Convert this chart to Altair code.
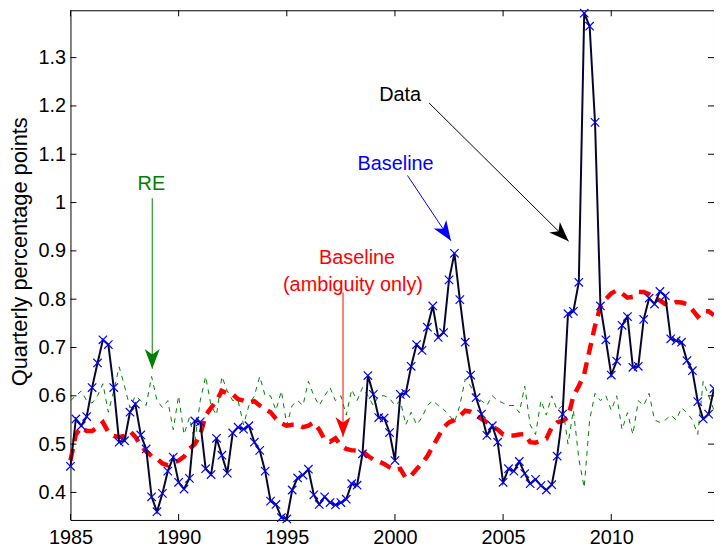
import altair as alt
import pandas as pd

FONT = "Liberation Sans"

# ---------------- data (quarterly, 1985Q1 .. 2014Q4) ----------------
start_year = 1985.0
n_quarters = 120
years = [start_year + 0.25 * i for i in range(n_quarters)]

data_vals = [
    0.454, 0.552, 0.538, 0.557, 0.617, 0.668, 0.716, 0.706, 0.617, 0.504,
    0.507, 0.566, 0.583, 0.519, 0.490, 0.391, 0.360, 0.398, 0.444, 0.473,
    0.421, 0.407, 0.429, 0.548, 0.546, 0.449, 0.437, 0.512, 0.477, 0.440,
    0.523, 0.535, 0.531, 0.538, 0.504, 0.487, 0.444, 0.382, 0.375, 0.348,
    0.345, 0.405, 0.430, 0.436, 0.448, 0.395, 0.375, 0.391, 0.379, 0.374,
    0.379, 0.386, 0.418, 0.415, 0.480, 0.642, 0.603, 0.555, 0.554, 0.524,
    0.466, 0.603, 0.605, 0.661, 0.706, 0.694, 0.742, 0.786, 0.721, 0.731,
    0.840, 0.895, 0.799, 0.711, 0.643, 0.596, 0.562, 0.518, 0.538, 0.504,
    0.421, 0.449, 0.444, 0.464, 0.439, 0.418, 0.427, 0.414, 0.405, 0.416,
    0.475, 0.562, 0.770, 0.775, 0.835, 1.392, 1.365, 1.166, 0.786, 0.716,
    0.643, 0.672, 0.746, 0.764, 0.659, 0.661, 0.758, 0.802, 0.790, 0.816,
    0.807, 0.718, 0.714, 0.711, 0.673, 0.652, 0.588, 0.552, 0.562, 0.615,
]

ambiguity_vals = [
    0.466, 0.520, 0.535, 0.527, 0.527, 0.535, 0.545, 0.525, 0.517, 0.515,
    0.517, 0.527, 0.515, 0.497, 0.485, 0.475, 0.470, 0.460, 0.456, 0.462,
    0.466, 0.474, 0.490, 0.500, 0.520, 0.560, 0.575, 0.590, 0.610, 0.605,
    0.603, 0.593, 0.590, 0.586, 0.589, 0.580, 0.572, 0.566, 0.552, 0.543,
    0.538, 0.540, 0.540, 0.535, 0.538, 0.545, 0.530, 0.510, 0.505, 0.512,
    0.497, 0.490, 0.487, 0.487, 0.485, 0.476, 0.468, 0.464, 0.459, 0.452,
    0.446, 0.449, 0.430, 0.435, 0.448, 0.460, 0.475, 0.495, 0.515, 0.535,
    0.545, 0.550, 0.558, 0.569, 0.567, 0.560, 0.552, 0.545, 0.536, 0.530,
    0.520, 0.518, 0.518, 0.520, 0.521, 0.504, 0.503, 0.507, 0.511, 0.535,
    0.545, 0.548, 0.555, 0.600, 0.620, 0.645, 0.695, 0.745, 0.785, 0.800,
    0.812, 0.818, 0.812, 0.803, 0.805, 0.815, 0.815, 0.810, 0.803, 0.797,
    0.790, 0.788, 0.794, 0.793, 0.790, 0.778, 0.764, 0.775, 0.775, 0.767,
]

re_vals = [
    0.590, 0.600, 0.610, 0.590, 0.585, 0.600, 0.625, 0.566, 0.610, 0.660,
    0.620, 0.575, 0.600, 0.590, 0.580, 0.640, 0.590, 0.576, 0.590, 0.530,
    0.600, 0.520, 0.555, 0.505, 0.590, 0.640, 0.580, 0.560, 0.640, 0.610,
    0.590, 0.590, 0.540, 0.580, 0.600, 0.640, 0.600, 0.600, 0.570, 0.610,
    0.540, 0.580, 0.590, 0.580, 0.630, 0.600, 0.580, 0.600, 0.617, 0.590,
    0.600, 0.560, 0.613, 0.590, 0.617, 0.600, 0.580, 0.600, 0.600, 0.595,
    0.580, 0.590, 0.540, 0.566, 0.540, 0.555, 0.580, 0.590, 0.580, 0.572,
    0.560, 0.545, 0.580, 0.635, 0.620, 0.595, 0.590, 0.580, 0.600, 0.590,
    0.585, 0.580, 0.580, 0.565, 0.620, 0.540, 0.520, 0.590, 0.560, 0.600,
    0.570, 0.580, 0.500, 0.570, 0.470, 0.410, 0.550, 0.605, 0.590, 0.600,
    0.570, 0.600, 0.530, 0.565, 0.520, 0.590, 0.580, 0.605, 0.550, 0.545,
    0.550, 0.560, 0.550, 0.575, 0.565, 0.550, 0.520, 0.630, 0.600, 0.570,
]

x_tick_vals = [1985, 1990, 1995, 2000, 2005, 2010]
y_tick_vals = [0.4, 0.5, 0.6, 0.7, 0.8, 0.9, 1.0, 1.1, 1.2, 1.3]
x_domain = [1985, 2014.75]
y_domain = [0.343, 1.398]

# annotations (data coordinates)
text_labels = ["Data", "Baseline", "RE", "Baseline", "(ambiguity only)"]
text_x = [2000.24, 2000.03, 1988.74, 1998.25, 1998.06]
text_y = [1.2226, 1.079, 1.038, 0.886, 0.829]
text_colors = ["#000000", "#0000ff", "#008000", "#ff0000", "#ff0000"]

arrow_x0 = [2001.58, 2000.58, 1988.78, 1997.60]
arrow_y0 = [1.206, 1.056, 1.009, 0.814]
arrow_x1 = [2008.03, 2002.59, 1988.78, 1997.60]
arrow_y1 = [0.920, 0.921, 0.656, 0.515]
arrow_colors = ["#000000", "#0000ff", "#008000", "#ff0000"]
arrow_angles = [134.7, 146.3, 180, 180]

W, H = 649, 514

df = pd.DataFrame({"year": years, "data": data_vals,
                   "amb": ambiguity_vals, "re": re_vals})
txt_df = pd.DataFrame({"label": text_labels, "x": text_x, "y": text_y,
                       "c": text_colors})
arr_df = pd.DataFrame({"x": arrow_x0, "y": arrow_y0, "x2": arrow_x1,
                       "y2": arrow_y1, "c": arrow_colors, "a": arrow_angles})
xt_df = pd.DataFrame({"t": x_tick_vals})
yt_df = pd.DataFrame({"t": y_tick_vals})

xs = alt.Scale(domain=x_domain, nice=False, zero=False)
ys = alt.Scale(domain=y_domain, nice=False, zero=False)

x_axis = alt.Axis(values=x_tick_vals, format="d", tickSize=0, domain=False,
                  grid=False, labelFont=FONT, labelFontSize=20,
                  labelColor="black", labelPadding=8, title=None,
                  labelFlush=False)
y_axis = alt.Axis(values=y_tick_vals, format=".1~f", tickSize=0, domain=False,
                  grid=False, labelFont=FONT, labelFontSize=20,
                  labelColor="black", labelPadding=5,
                  title="Quarterly percentage points", titleFont=FONT,
                  titleFontSize=22, titleFontWeight="normal",
                  titleColor="black", titleX=-51, titleY=243,
                  titleAngle=270, titleAlign="center",
                  titleBaseline="middle")

X = alt.X("year:Q", scale=xs, axis=x_axis)

re_line = alt.Chart(df).mark_line(color="#008000", strokeWidth=1,
                                  strokeDash=[5, 5]).encode(
    x=X, y=alt.Y("re:Q", scale=ys, axis=y_axis))
amb_line = alt.Chart(df).mark_line(color="#ff0000", strokeWidth=4.5,
                                   strokeDash=[12, 8]).encode(
    x=X, y=alt.Y("amb:Q", scale=ys, axis=y_axis))
data_line = alt.Chart(df).mark_line(color="#05052e", strokeWidth=2).encode(
    x=X, y=alt.Y("data:Q", scale=ys, axis=y_axis))
markers = alt.Chart(df).mark_point(
    shape="M-1,-1L1,1M-1,1L1,-1", size=72, filled=False, stroke="#0000ff",
    strokeWidth=1.2, opacity=1).encode(
    x=X, y=alt.Y("data:Q", scale=ys, axis=y_axis))

texts = alt.Chart(txt_df).mark_text(font=FONT, fontSize=20, align="center",
                                    baseline="middle").encode(
    x=alt.X("x:Q", scale=xs, axis=x_axis),
    y=alt.Y("y:Q", scale=ys, axis=y_axis),
    text="label:N", color=alt.Color("c:N", scale=None))

shafts = alt.Chart(arr_df).mark_rule(strokeWidth=1).encode(
    x=alt.X("x:Q", scale=xs, axis=x_axis), x2="x2:Q",
    y=alt.Y("y:Q", scale=ys, axis=y_axis), y2="y2:Q",
    color=alt.Color("c:N", scale=None))
heads = alt.Chart(arr_df).mark_point(
    shape="M0,0L0.38,1L0,0.72L-0.38,1Z", size=1600, filled=True,
    opacity=1, strokeWidth=0).encode(
    x=alt.X("x2:Q", scale=xs, axis=x_axis),
    y=alt.Y("y2:Q", scale=ys, axis=y_axis),
    angle=alt.Angle("a:Q", scale=None),
    color=alt.Color("c:N", scale=None))

tk = dict(color="black", thickness=1, size=6, opacity=1)
xt_bottom = alt.Chart(xt_df).mark_tick(orient="vertical", **tk).encode(
    x=alt.X("t:Q", scale=xs, axis=x_axis), y=alt.value(H - 3))
xt_top = alt.Chart(xt_df).mark_tick(orient="vertical", **tk).encode(
    x=alt.X("t:Q", scale=xs, axis=x_axis), y=alt.value(3))
yt_left = alt.Chart(yt_df).mark_tick(orient="horizontal", **tk).encode(
    y=alt.Y("t:Q", scale=ys, axis=y_axis), x=alt.value(3))
yt_right = alt.Chart(yt_df).mark_tick(orient="horizontal", **tk).encode(
    y=alt.Y("t:Q", scale=ys, axis=y_axis), x=alt.value(W - 3))

chart = alt.layer(
    re_line, amb_line, data_line, markers, shafts, heads, texts,
    xt_bottom, xt_top, yt_left, yt_right,
).properties(
    width=W, height=H,
    autosize=alt.AutoSizeParams(type="none"),
    padding={"left": 63, "top": 0, "right": 0, "bottom": 28},
    background="white",
).configure_view(
    stroke="black", strokeWidth=1
)

chart.save("out.html", embed_options={"renderer": "svg", "actions": False})
